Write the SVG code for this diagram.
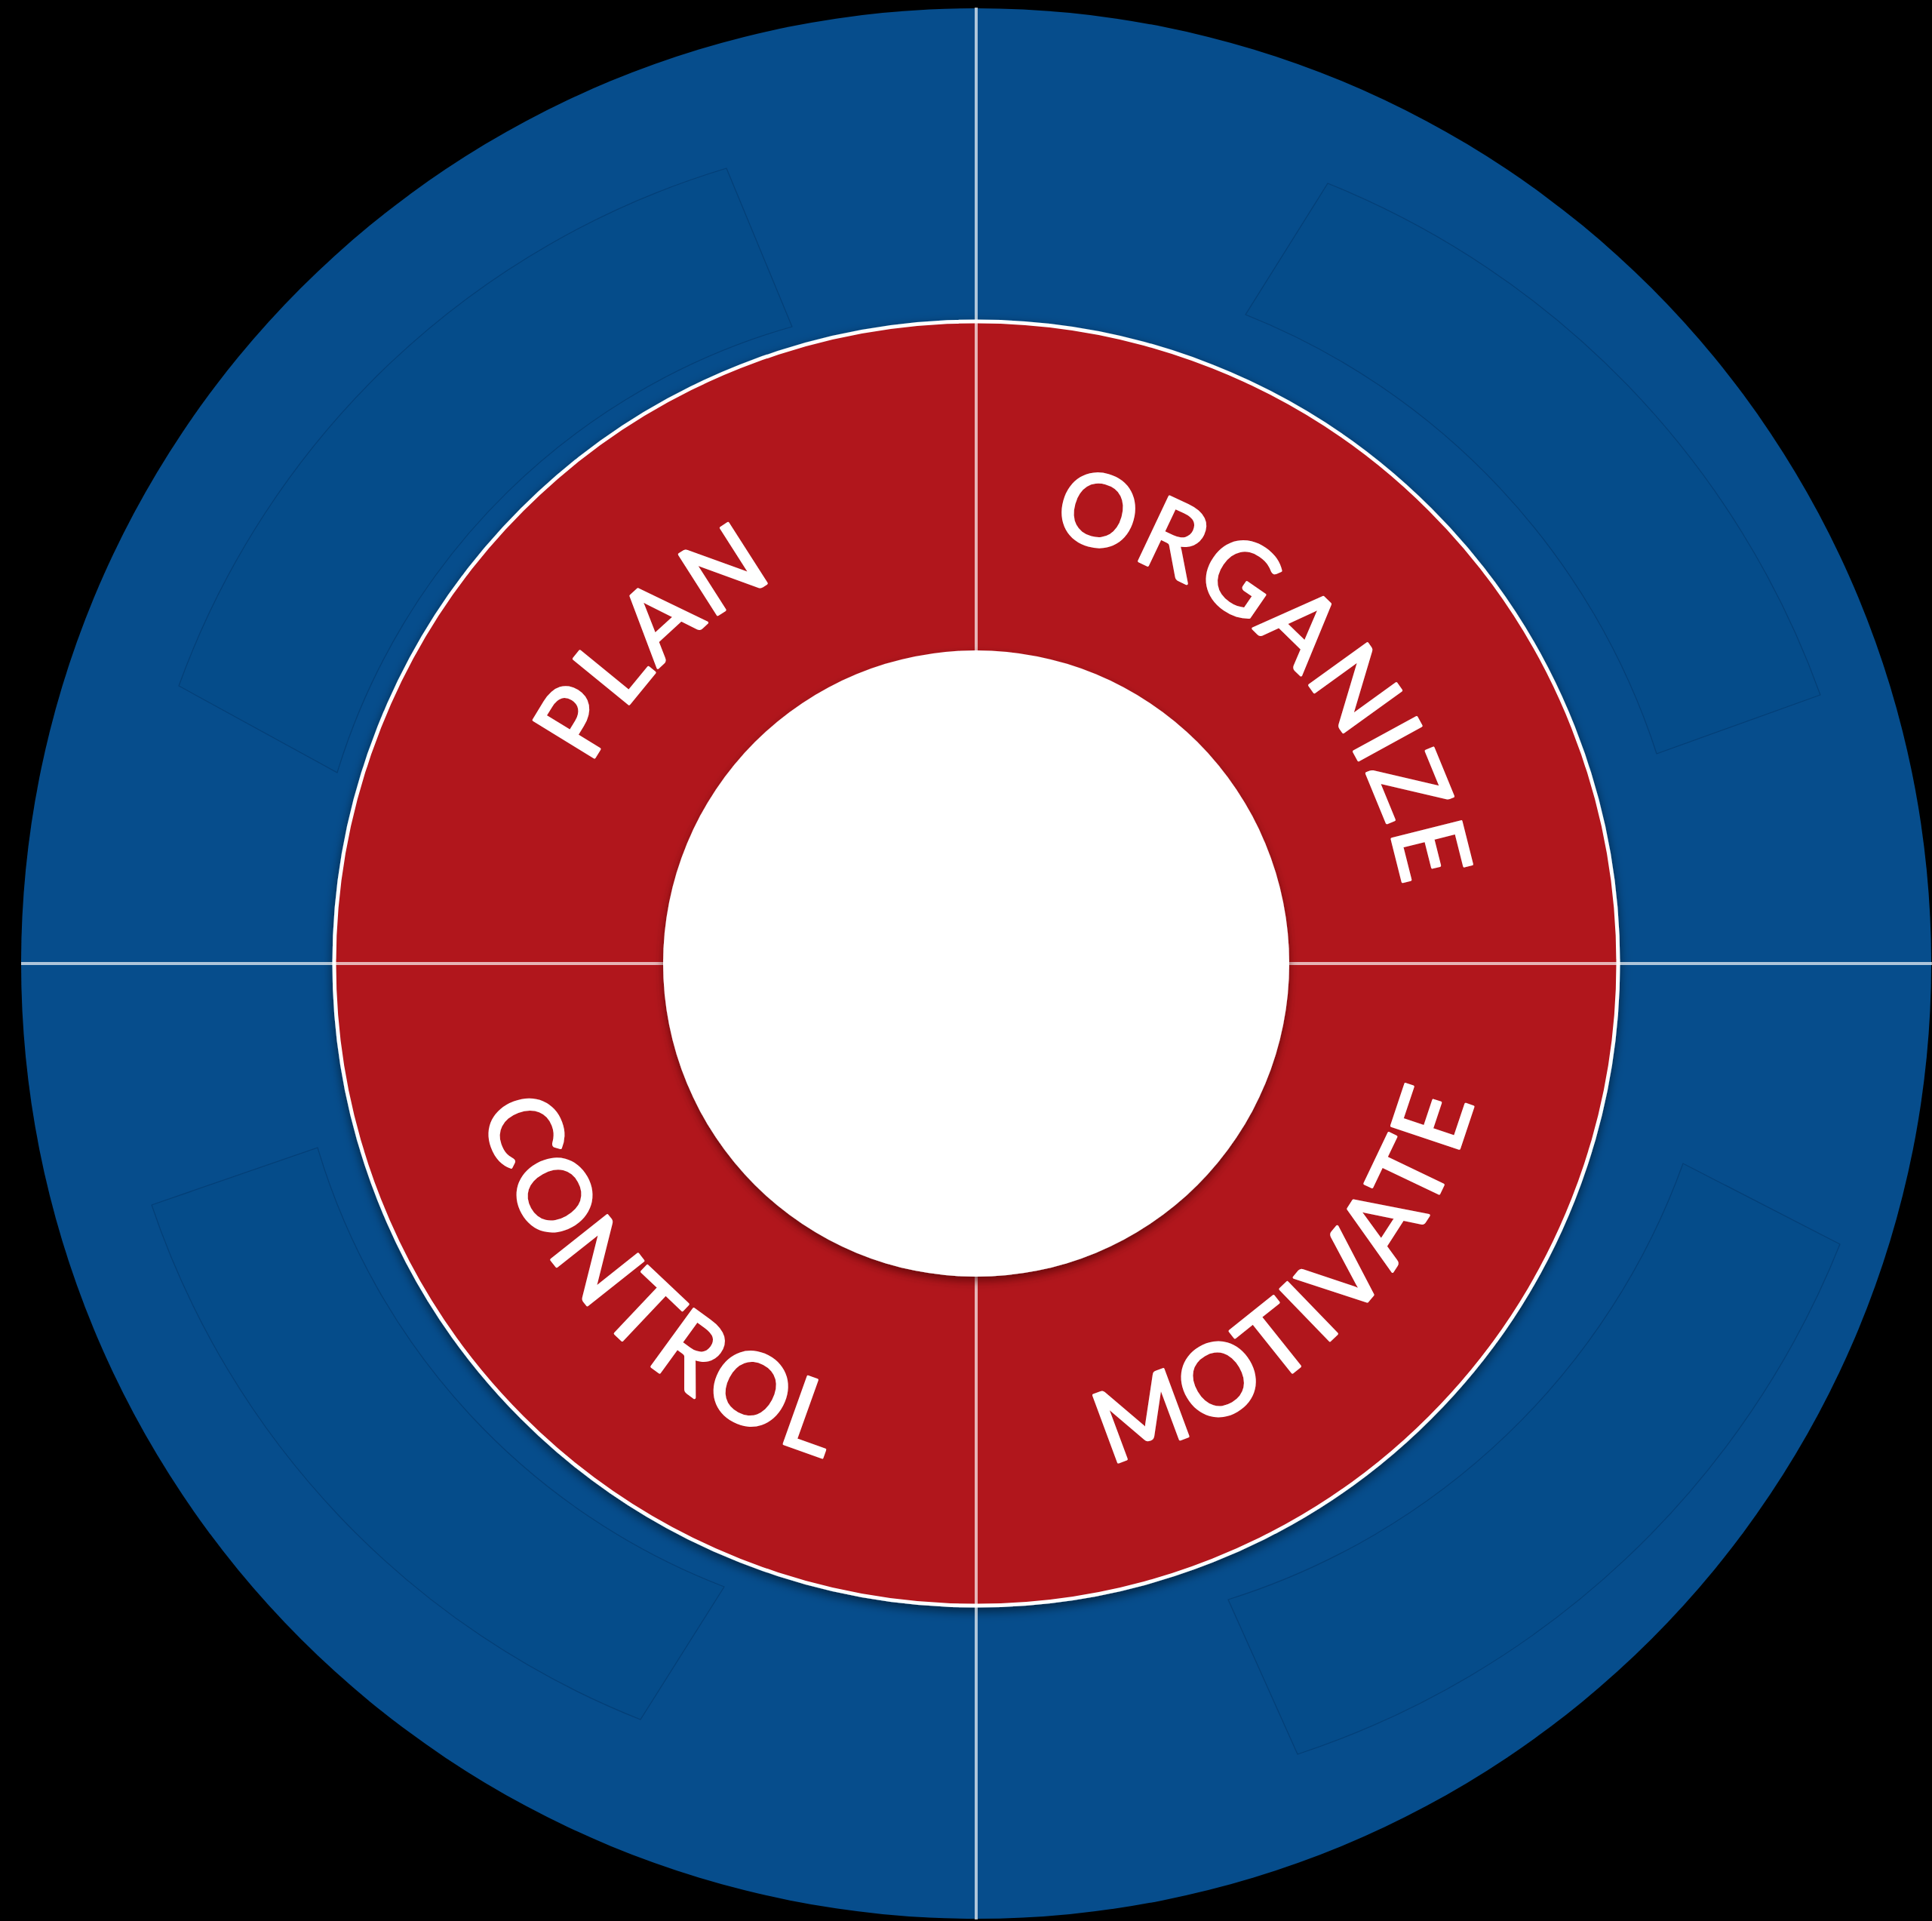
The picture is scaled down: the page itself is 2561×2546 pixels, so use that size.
<svg xmlns="http://www.w3.org/2000/svg" width="2561" height="2546" viewBox="0 0 2561 2546">
  <defs>
    <filter id="ringShadow" x="-10%" y="-10%" width="120%" height="120%">
      <feDropShadow dx="0" dy="5" stdDeviation="7" flood-color="#000" flood-opacity="0.55"/>
    </filter>
    <filter id="holeShadow" x="-10%" y="-10%" width="120%" height="120%">
      <feDropShadow dx="0" dy="6" stdDeviation="6" flood-color="#3a0000" flood-opacity="0.6"/>
    </filter>
    <path id="pPlan" d="M 883.9 1687.1 A 580 580 0 0 1 1704.1 866.9"/>
    <path id="pOrganize" d="M 883.9 866.9 A 580 580 0 0 1 1704.1 1687.1"/>
    <path id="pControl" d="M 809.6 792.6 A 685 685 0 0 0 1778.4 1761.4"/>
    <path id="pMotivate" d="M 809.6 1761.4 A 685 685 0 0 0 1778.4 792.6"/>
    <style>
      .lbl { font-family: Lato, "Open Sans", "Liberation Sans", sans-serif; font-size: 132px; font-weight: 400; fill: #ffffff; stroke: #ffffff; stroke-width: 3.5px; stroke-linejoin: round; letter-spacing: 5px; }
      .low { letter-spacing: 8px; }
      .ghost { fill: #000000; fill-opacity: 0.012; stroke: #00224a; stroke-opacity: 0.3; stroke-width: 1.2; }
      .divider { stroke: #ffffff; stroke-opacity: 0.68; stroke-width: 4; }
    </style>
  </defs>
  <rect x="0" y="0" width="2561" height="2546" fill="#000000"/>
  <g id="outer-ring">
    <circle cx="1294" cy="1277" r="1266" fill="#064d8c"/>
    <path class="ghost" d="M 237 909 A 1112 1112 0 0 1 963 223 L 1050 433 A 882 882 0 0 0 447 1024 Z"/>
    <path class="ghost" d="M 1760 243 A 1150 1150 0 0 1 2413 921 L 2196 999 A 937 937 0 0 0 1651 417 Z"/>
    <path class="ghost" d="M 2439 1649 A 1168 1168 0 0 1 1720 2325 L 1628 2120 A 940 940 0 0 0 2231 1542 Z"/>
    <path class="ghost" d="M 849 2279 A 1118 1118 0 0 1 201 1597 L 421 1521 A 898 898 0 0 0 960 2103 Z"/>
  </g>
  <g id="inner-ring">
    <circle cx="1294" cy="1277" r="851" fill="#b1171f" stroke="#ffffff" stroke-width="5" filter="url(#ringShadow)"/>
  </g>
  <g id="connectors">
    <line class="divider" x1="1294" y1="10" x2="1294" y2="2544"/>
    <line class="divider" x1="28" y1="1277" x2="2561" y2="1277"/>
  </g>
  <g id="center">
    <circle cx="1294" cy="1277" r="415" fill="#ffffff" filter="url(#holeShadow)"/>
  </g>
  <g id="plan">
    <text class="lbl" text-anchor="middle"><textPath href="#pPlan" startOffset="50%">PLAN</textPath></text>
  </g>
  <g id="organize">
    <text class="lbl" text-anchor="middle"><textPath href="#pOrganize" startOffset="50%">ORGANIZE</textPath></text>
  </g>
  <g id="control">
    <text class="lbl low" text-anchor="middle"><textPath href="#pControl" startOffset="50%">CONTROL</textPath></text>
  </g>
  <g id="motivate">
    <text class="lbl low" text-anchor="middle"><textPath href="#pMotivate" startOffset="50%">MOTIVATE</textPath></text>
  </g>
</svg>
